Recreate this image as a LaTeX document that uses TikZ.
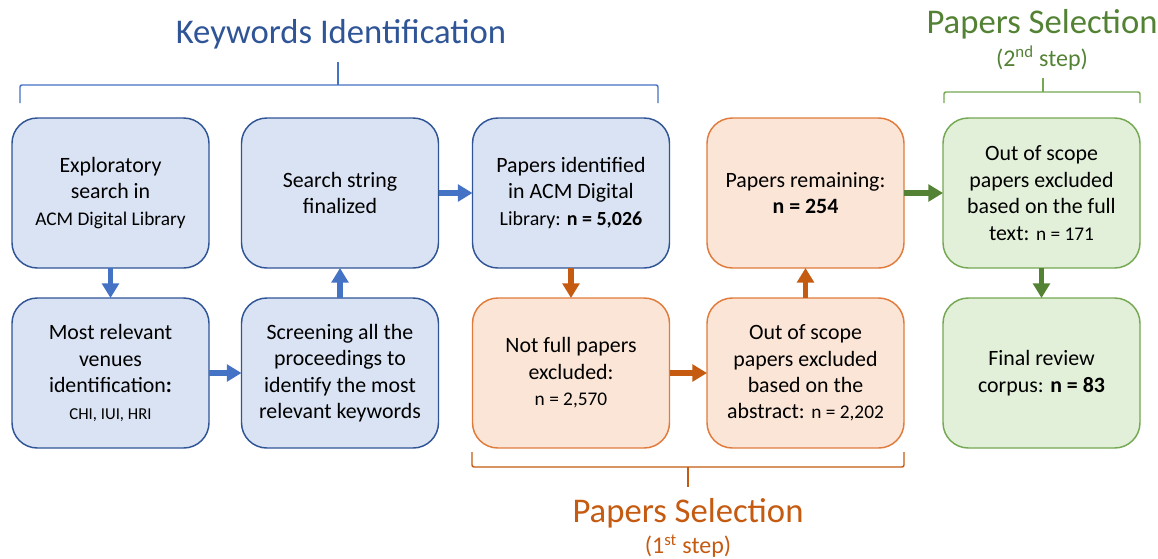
\documentclass[tikz,border=0pt]{standalone}
\usepackage{fontspec}
\setmainfont{Carlito}
\usepackage{tikz}
\usetikzlibrary{arrows.meta, positioning}
\definecolor{kwfill}{HTML}{DAE3F3}
\definecolor{kwline}{HTML}{2F5597}
\definecolor{kwarrow}{HTML}{4472C4}
\definecolor{psfill}{HTML}{FBE5D6}
\definecolor{psline}{HTML}{E07B3C}
\definecolor{psdark}{HTML}{C55A11}
\definecolor{fsfill}{HTML}{E2F0D9}
\definecolor{fsline}{HTML}{74A852}
\definecolor{fsdark}{HTML}{548235}

\begin{document}
\begin{tikzpicture}[
  x=0.75pt, y=-0.75pt,
  box/.style={rounded corners=19pt, line width=1.1pt, minimum width=147.75pt,
              minimum height=112.5pt, outer sep=0pt, align=center,
              font=\fontsize{16.4}{19.8}\selectfont},
  kwbox/.style={box, draw=kwline, fill=kwfill},
  psbox/.style={box, draw=psline, fill=psfill},
  fsbox/.style={box, draw=fsline, fill=fsfill},
  arr/.style={-{Triangle[length=11pt, width=12.5pt]}, line width=4.4pt},
  title/.style={font=\fontsize{26}{31}\selectfont},
  subtitle/.style={font=\fontsize{18}{22}\selectfont},
  brace/.style={line width=1.1pt, rounded corners=1.5pt},
]
  \useasboundingbox (0,0) rectangle (1158,558);

  % top row
  \node[kwbox] (explore) at (110.5,193) {Exploratory\\search in\\{\fontsize{14.5}{17}\selectfont ACM Digital Library}};
  \node[kwbox] (string) at (340,193) {Search string\\finalized};
  \node[kwbox] (ident) at (571,193) {Papers identified\\in ACM Digital\\{\fontsize{15}{18}\selectfont Library: \textbf{n = 5,026}}};
  \node[psbox] (remain) at (805.5,193) {Papers remaining:\\\textbf{n = 254}};
  \node[fsbox] (fulltext) at (1041.5,193) {Out of scope\\papers excluded\\based on the full\\text: {\fontsize{14.5}{17}\selectfont n = 171}};

  % bottom row
  \node[kwbox] (venues) at (110.5,373) {Most relevant\\venues\\identification\textbf{:}\\{\fontsize{12.5}{15}\selectfont CHI, IUI, HRI}};
  \node[kwbox] (screen) at (340,373) {Screening all the\\proceedings to\\identify the most\\relevant keywords};
  \node[psbox] (notfull) at (571,373) {Not full papers\\excluded:\\{\fontsize{14.5}{17}\selectfont n = 2,570}};
  \node[psbox] (abstract) at (805.5,373) {Out of scope\\papers excluded\\based on the\\abstract: {\fontsize{14.5}{17}\selectfont n = 2,202}};
  \node[fsbox] (corpus) at (1041.5,373) {Final review\\corpus: \textbf{n = 83}};

  % flow
  \draw[arr, kwarrow] (explore) -- (venues);
  \draw[arr, kwarrow] (venues) -- (screen);
  \draw[arr, kwarrow] (screen) -- (string);
  \draw[arr, kwarrow] (string) -- (ident);
  \draw[arr, psdark] (ident) -- (notfull);
  \draw[arr, psdark] (notfull) -- (abstract);
  \draw[arr, psdark] (abstract) -- (remain);
  \draw[arr, fsdark] (remain) -- (fulltext);
  \draw[arr, fsdark] (fulltext) -- (corpus);

  % phase labels
  \node[title, text=kwline] (kwtitle) at (341,34) {Keywords Identification};
  \draw[brace, kwarrow] (20,103) -- (20,85) -- (658,85) -- (658,103);
  \draw[brace, kwarrow] (338,62) -- (338,85);

  \node[title, text=psdark] (pstitle) at (688,513) {Papers Selection};
  \node[subtitle, text=psdark] (psstep) at (688,546) {(1\textsuperscript{st} step)};
  \draw[brace, psdark] (472,452) -- (472,467) -- (904,467) -- (904,452);
  \draw[brace, psdark] (688,467) -- (688,487);

  \node[title, text=fsdark] (fstitle) at (1042,24) {Papers Selection};
  \node[subtitle, text=fsdark] (fsstep) at (1042,58) {(2\textsuperscript{nd} step)};
  \draw[brace, fsline] (944,103) -- (944,92) -- (1140,92) -- (1140,103);
  \draw[brace, fsline] (1043,78) -- (1043,92);
\end{tikzpicture}
\end{document}
